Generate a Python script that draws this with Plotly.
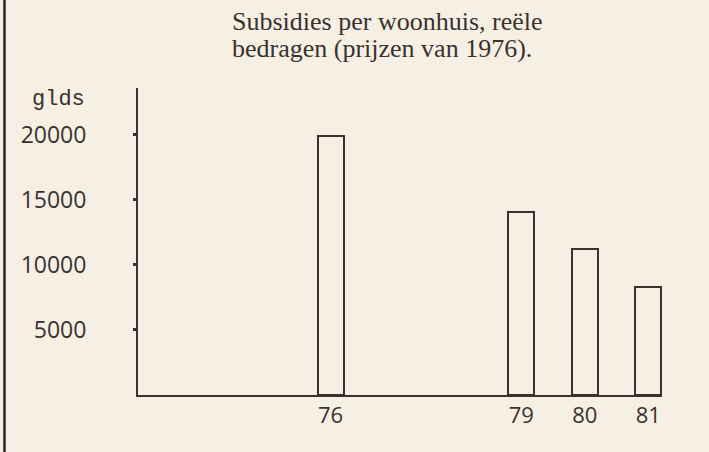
import plotly.graph_objects as go

# Data
years = [76, 79, 80, 81]
year_labels = ["76", "79", "80", "81"]
subsidies = [19900, 14100, 11200, 8300]
y_ticks = [5000, 10000, 15000, 20000]
y_tick_labels = ["5000", "10000", "15000", "20000"]
title_line1 = "Subsidies per woonhuis, reële"
title_line2 = "bedragen (prijzen van 1976)."
unit_label = "glds"

INK = "#3a322e"
PAPER = "#f5efe4"

fig = go.Figure()
fig.add_trace(go.Bar(
    x=years, y=subsidies, width=0.41,
    marker=dict(color="rgba(0,0,0,0)", line=dict(color=INK, width=2)),
    showlegend=False, hoverinfo="x+y", cliponaxis=False,
))

fig.update_layout(
    width=709, height=452,
    margin=dict(l=138, r=47, t=88, b=57),
    paper_bgcolor=PAPER, plot_bgcolor="rgba(0,0,0,0)",
    bargap=0,
    xaxis=dict(
        range=[72.97, 81.215], tickvals=years, ticktext=year_labels,
        showline=True, linecolor=INK, linewidth=2, showgrid=False, zeroline=False,
        ticks="", tickfont=dict(family="Open Sans", size=22, color=INK),
    ),
    yaxis=dict(
        range=[0, 23600], tickvals=y_ticks, ticktext=y_tick_labels,
        showline=True, linecolor=INK, linewidth=2, showgrid=False, zeroline=False,
        ticks="outside", ticklen=3, tickwidth=3, tickcolor=INK,
        ticklabelstandoff=42,
        tickfont=dict(family="Open Sans", size=23, color=INK),
    ),
    annotations=[
        dict(text=title_line1, xref="paper", yref="paper", x=0.1756, y=1.215,
             xanchor="left", yanchor="middle", showarrow=False,
             font=dict(family="Liberation Serif", size=26, color=INK)),
        dict(text=title_line2, xref="paper", yref="paper", x=0.1756, y=1.130,
             xanchor="left", yanchor="middle", showarrow=False,
             font=dict(family="Liberation Serif", size=26, color=INK)),
        dict(text=unit_label, xref="paper", yref="paper", x=-0.0973, y=0.961,
             xanchor="right", yanchor="middle", showarrow=False,
             font=dict(family="Liberation Mono", size=22, color=INK)),
    ],
    shapes=[
        dict(type="line", xref="paper", yref="paper", x0=-0.2548, x1=-0.2548,
             y0=-0.19, y1=1.29, line=dict(color="#2a2320", width=2.5)),
    ],
)

fig.write_html(
    "out.html",
    config={"displayModeBar": False},
    post_script="document.body.style.margin='0';document.body.style.background='%s';" % PAPER,
)
